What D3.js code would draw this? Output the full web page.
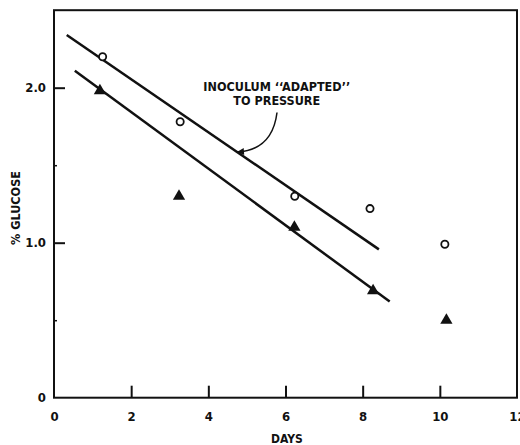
<!DOCTYPE html>
<html>
<head>
<meta charset="utf-8">
<script src="https://cdn.jsdelivr.net/npm/d3@7"></script>
<style>
  body { margin: 0; background: #fff; }
  text { font-family: "DejaVu Sans Condensed", "DejaVu Sans", sans-serif; font-weight: bold; fill: #111; }
</style>
</head>
<body>
<div id="chart"></div>
<script>
(function () {
    'use strict';
    // open circles
    var circleDays = [1.26, 3.27, 6.24, 8.19, 10.13],
        circleGlucose = [2.2, 1.78, 1.3, 1.22, 0.99],
        // filled triangles
        triDays = [1.19, 3.24, 6.23, 8.27, 10.17],
        triGlucose = [1.98, 1.3, 1.1, 0.69, 0.5],
        // fitted lines, end points
        upperLine = [[0.33, 2.34], [8.42, 0.957]],
        lowerLine = [[0.54, 2.11], [8.7, 0.62]],
        xTicks = [0, 2, 4, 6, 8, 10, 12],
        yMajor = [0, 1, 2],
        yMinor = [0.5, 1.5],
        yLabels = ["0", "1.0", "2.0"],
        note = ["INOCULUM \u2018\u2018ADAPTED\u2019\u2019", "TO PRESSURE"],
        noteAt = [5.8, 1.98],
        arrowPath = [[5.78, 1.84], [5.66, 1.6], [4.76, 1.585]];

    var W = 520, H = 445,
        x = d3.scaleLinear().domain([0, 12]).range([54, 517]),
        y = d3.scaleLinear().domain([0, 2.5]).range([397.7, 10.2]);

    var svg = d3.select("#chart").append("svg")
        .attr("width", W)
        .attr("height", H);

    svg.append("defs").append("marker")
        .attr("id", "head")
        .attr("viewBox", "0 0 10 10")
        .attr("refX", 9)
        .attr("refY", 5)
        .attr("markerUnits", "userSpaceOnUse")
        .attr("markerWidth", 9)
        .attr("markerHeight", 7)
        .attr("orient", "auto")
        .append("path")
        .attr("d", "M 0 0 L 10 5 L 0 10 z")
        .attr("fill", "#111");

    // frame
    svg.append("rect")
        .attr("x", x(0))
        .attr("y", y(2.5))
        .attr("width", x(12) - x(0))
        .attr("height", y(0) - y(2.5))
        .attr("fill", "none")
        .attr("stroke", "#111")
        .attr("stroke-width", 2);

    // x axis, ticks inward
    var xAxis = d3.axisBottom(x).tickValues(xTicks).tickSize(-12).tickPadding(14)
        .tickFormat(d3.format("d"));
    var gx = svg.append("g").attr("transform", "translate(0," + y(0) + ")").call(xAxis);
    gx.select(".domain").remove();
    gx.selectAll(".tick line").attr("stroke", "#111").attr("stroke-width", 2)
        .filter(function (d) { return d === 0 || d === 12; }).remove();
    gx.selectAll(".tick text").attr("font-size", 13).attr("font-family", null);

    // y axis
    var yAxis = d3.axisLeft(y).tickValues(yMajor).tickSize(-11).tickPadding(8)
        .tickFormat(function (d, i) { return yLabels[i]; });
    var gy = svg.append("g").attr("transform", "translate(" + x(0) + ",0)").call(yAxis);
    gy.select(".domain").remove();
    gy.selectAll(".tick line").attr("stroke", "#111").attr("stroke-width", 2)
        .filter(function (d) { return d === 0; }).remove();
    gy.selectAll(".tick text").attr("font-size", 13).attr("font-family", null);

    var gm = svg.append("g").attr("transform", "translate(" + x(0) + ",0)")
        .call(d3.axisLeft(y).tickValues(yMinor).tickSize(-3).tickFormat(""));
    gm.select(".domain").remove();
    gm.selectAll(".tick line").attr("stroke", "#111").attr("stroke-width", 1.5);

    // fitted lines
    var line = d3.line().x(function (d) { return x(d[0]); }).y(function (d) { return y(d[1]); });
    svg.selectAll("path.fit")
        .data([upperLine, lowerLine])
        .enter()
        .append("path")
        .attr("class", "fit")
        .attr("d", line)
        .attr("fill", "none")
        .attr("stroke", "#111")
        .attr("stroke-width", 2.5);

    // points
    svg.selectAll("circle.pt")
        .data(d3.zip(circleDays, circleGlucose))
        .enter()
        .append("circle")
        .attr("class", "pt")
        .attr("cx", function (d) { return x(d[0]); })
        .attr("cy", function (d) { return y(d[1]); })
        .attr("r", 3.6)
        .attr("fill", "#fff")
        .attr("stroke", "#111")
        .attr("stroke-width", 1.8);

    var tri = d3.symbol().type(d3.symbolTriangle).size(65);
    svg.selectAll("path.tri")
        .data(d3.zip(triDays, triGlucose))
        .enter()
        .append("path")
        .attr("class", "tri")
        .attr("d", tri)
        .attr("transform", function (d) { return "translate(" + x(d[0]) + "," + y(d[1]) + ")"; })
        .attr("fill", "#111");

    // annotation
    svg.append("text")
        .attr("x", x(noteAt[0]))
        .attr("y", y(noteAt[1]))
        .attr("text-anchor", "middle")
        .attr("font-size", 12.5)
        .selectAll("tspan")
        .data(note)
        .enter()
        .append("tspan")
        .attr("x", x(noteAt[0]) - 1)
        .attr("dy", function (d, i) { return i ? 14 : 0; })
        .text(function (d) { return d; });

    svg.append("path")
        .attr("d", "M" + x(arrowPath[0][0]) + "," + y(arrowPath[0][1]) +
            " Q" + x(arrowPath[1][0]) + "," + y(arrowPath[1][1]) +
            " " + x(arrowPath[2][0]) + "," + y(arrowPath[2][1]))
        .attr("fill", "none")
        .attr("stroke", "#111")
        .attr("stroke-width", 1.5)
        .attr("marker-end", "url(#head)");

    // axis titles
    svg.append("text")
        .attr("transform", "translate(20,208) rotate(-90)")
        .attr("text-anchor", "middle")
        .attr("font-size", 12.5)
        .text("% GLUCOSE");

    svg.append("text")
        .attr("x", 287)
        .attr("y", 443)
        .attr("text-anchor", "middle")
        .attr("font-size", 12)
        .text("DAYS");
}());
</script>
</body>
</html>
